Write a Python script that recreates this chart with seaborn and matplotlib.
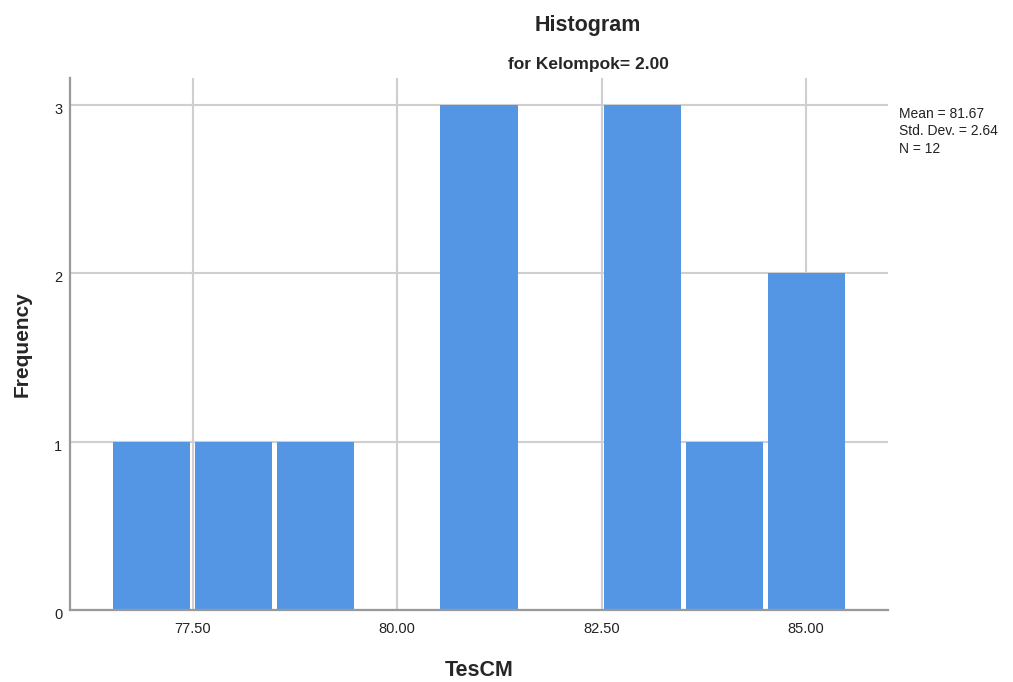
import numpy as np
import pandas as pd
import seaborn as sns
import matplotlib.pyplot as plt
from matplotlib.transforms import ScaledTranslation

# TesCM scores for Kelompok = 2.00
scores = [77, 78, 79, 81, 81, 81, 83, 83, 83, 84, 85, 85]
bin_edges = [76.5, 77.5, 78.5, 79.5, 80.5, 81.5, 82.5, 83.5, 84.5, 85.5]
x_ticks = [77.5, 80.0, 82.5, 85.0]
x_tick_labels = ['77.50', '80.00', '82.50', '85.00']
y_ticks = [0, 1, 2, 3]

df = pd.DataFrame({'TesCM': scores})

sns.set_style('white')
plt.rcParams['font.family'] = ['Liberation Sans', 'DejaVu Sans']

W, H = 1013, 682
fig = plt.figure(figsize=(W / 100, H / 100), dpi=100)
ax = fig.add_axes([70 / W, 1 - 610 / H, 818 / W, 532 / H])

sns.histplot(data=df, x='TesCM', bins=bin_edges, shrink=0.945, color='#5596e4',
             alpha=1, edgecolor='none', linewidth=0, ax=ax, zorder=3)

ax.set_xlim(76, 86)
ax.set_ylim(0, 3.16)
ax.set_xticks(x_ticks)
ax.set_xticklabels(x_tick_labels)
ax.set_yticks(y_ticks)
ax.tick_params(axis='both', length=0, labelsize=10.5, colors='#222222')
ax.tick_params(axis='x', pad=8.5)
ax.tick_params(axis='y', pad=5.5)
# SPSS puts the y labels a little under their grid line
shift = ScaledTranslation(0, -3.5 / 100, fig.dpi_scale_trans)
for lbl in ax.get_yticklabels():
    lbl.set_transform(lbl.get_transform() + shift)

ax.grid(True, color='#cfcfcf', linewidth=1.5, zorder=0)
ax.set_axisbelow(True)
for side in ['top', 'right']:
    ax.spines[side].set_visible(False)
for side in ['left', 'bottom']:
    ax.spines[side].set_color('#999999')
    ax.spines[side].set_linewidth(1.6)
    ax.spines[side].set_zorder(4)

ax.set_xlabel('TesCM', fontsize=15.5, fontweight='bold', labelpad=17.5)
ax.set_ylabel('Frequency', fontsize=15, fontweight='bold', labelpad=16)

fig.text(588 / W, 1 - 31 / H, 'Histogram', ha='center', va='baseline',
         fontsize=15.5, fontweight='bold')
fig.text(588 / W, 1 - 68.5 / H, 'for Kelompok= 2.00', ha='center', va='baseline',
         fontsize=12.5, fontweight='bold')

mean = np.mean(scores)
sd = np.std(scores, ddof=1)
stats_lines = [f'Mean = {mean:.2f}', f'Std. Dev. = {sd:.2f}', f'N = {len(scores)}']
for i, line in enumerate(stats_lines):
    fig.text(899 / W, 1 - (117.7 + 17.5 * i) / H, line, ha='left', va='baseline',
             fontsize=10, color='#222222')

fig.savefig('out.png', dpi=100)
